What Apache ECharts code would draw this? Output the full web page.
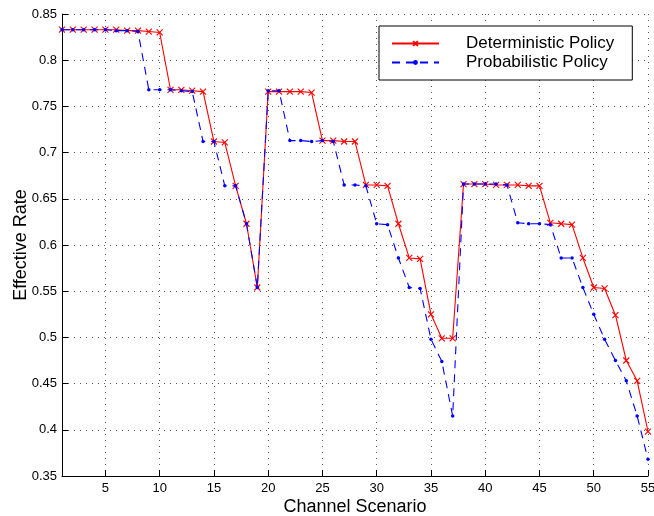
<!DOCTYPE html>
<html>
<head>
<meta charset="utf-8">
<script src="https://cdn.jsdelivr.net/npm/echarts@6/dist/echarts.min.js"></script>
<style>
    html, body { margin: 0; padding: 0; background: #fff; }
    #chart { width: 654px; height: 516px; }
</style>
</head>
<body>
<div id="chart"></div>
<script>
// channel scenarios on the x axis
var scenarios = [1, 2, 3, 4, 5, 6, 7, 8, 9, 10, 11, 12, 13, 14, 15, 16, 17, 18, 19, 20,
    21, 22, 23, 24, 25, 26, 27, 28, 29, 30, 31, 32, 33, 34, 35, 36, 37, 38, 39, 40,
    41, 42, 43, 44, 45, 46, 47, 48, 49, 50, 51, 52, 53, 54, 55];

// effective rate, deterministic policy (red)
var deterministic = [0.833, 0.833, 0.833, 0.833, 0.833, 0.833, 0.832, 0.832, 0.831, 0.830,
    0.768, 0.768, 0.767, 0.766, 0.712, 0.711, 0.664, 0.623, 0.554, 0.766,
    0.766, 0.766, 0.766, 0.765, 0.713, 0.713, 0.712, 0.712, 0.665, 0.665,
    0.664, 0.623, 0.586, 0.585, 0.525, 0.499, 0.499, 0.666, 0.666, 0.666,
    0.665, 0.665, 0.665, 0.664, 0.664, 0.624, 0.623, 0.622, 0.586, 0.554,
    0.553, 0.524, 0.475, 0.453, 0.398];

// effective rate, probabilistic policy (blue)
var probabilistic = [0.833, 0.833, 0.833, 0.833, 0.833, 0.832, 0.832, 0.831, 0.768, 0.768,
    0.768, 0.767, 0.766, 0.712, 0.712, 0.664, 0.664, 0.623, 0.554, 0.767,
    0.767, 0.713, 0.713, 0.712, 0.713, 0.712, 0.665, 0.665, 0.664, 0.623,
    0.622, 0.586, 0.554, 0.553, 0.498, 0.474, 0.415, 0.666, 0.666, 0.666,
    0.666, 0.665, 0.624, 0.623, 0.623, 0.622, 0.586, 0.586, 0.554, 0.525,
    0.498, 0.475, 0.453, 0.415, 0.368];

var xTicks = [5, 10, 15, 20, 25, 30, 35, 40, 45, 50, 55];

function pairs(ys) {
    var out = [];
    for (var i = 0; i < scenarios.length; i++) {
        out.push([scenarios[i], ys[i]]);
    }
    return out;
}

var font = '"Liberation Sans", Arial, Helvetica, sans-serif';
var gridLine = {show: true, lineStyle: {color: '#555', width: 1, type: [1, 5]}};

var chart = echarts.init(document.getElementById('chart'), null, {renderer: 'canvas'});
chart.setOption({
    animation: false,
    backgroundColor: '#fff',
    textStyle: {fontFamily: font},
    grid: {left: 62, right: 6, top: 14, bottom: 40, containLabel: false, outerBoundsMode: 'none'},
    legend: {
        orient: 'vertical',
        left: 379,
        top: 26,
        padding: [9, 18, 9, 12],
        itemWidth: 47,
        itemHeight: 6,
        itemGap: 2,
        borderColor: '#000',
        borderWidth: 1,
        backgroundColor: '#fff',
        textStyle: {fontSize: 17, color: '#000', fontFamily: font, padding: [0, 0, 0, 22]},
        data: ['Deterministic Policy', 'Probabilistic Policy']
    },
    xAxis: {
        type: 'value',
        min: 1,
        max: 55,
        name: 'Channel Scenario',
        nameLocation: 'middle',
        nameGap: 22,
        nameMoveOverlap: false,
        nameTextStyle: {fontSize: 18, color: '#000', fontFamily: font},
        axisLine: {show: true, onZero: false, lineStyle: {color: '#000', width: 1}},
        axisTick: {show: true, inside: true, length: 6, customValues: xTicks, lineStyle: {color: '#000'}},
        axisLabel: {customValues: xTicks, fontSize: 13, color: '#000', margin: 6, fontFamily: font},
        splitLine: gridLine
    },
    yAxis: {
        type: 'value',
        min: 0.35,
        max: 0.85,
        interval: 0.05,
        name: 'Effective Rate',
        nameLocation: 'middle',
        nameGap: 32,
        nameMoveOverlap: false,
        nameTextStyle: {fontSize: 18, color: '#000', fontFamily: font},
        axisLine: {show: true, lineStyle: {color: '#000', width: 1}},
        axisTick: {show: true, inside: true, length: 6, lineStyle: {color: '#000'}},
        axisLabel: {fontSize: 13, color: '#000', margin: 5, fontFamily: font},
        splitLine: gridLine
    },
    series: [
        {
            name: 'Deterministic Policy',
            type: 'line',
            clip: false,
            data: pairs(deterministic),
            symbol: 'path://M0,0L10,10M10,0L0,10',
            symbolSize: 6,
            showAllSymbol: true,
            lineStyle: {color: '#ff0000', width: 1.1},
            itemStyle: {color: '#ff0000', borderColor: '#ff0000', borderWidth: 1.1},
            z: 3
        },
        {
            name: 'Probabilistic Policy',
            type: 'line',
            clip: false,
            data: pairs(probabilistic),
            symbol: 'circle',
            symbolSize: 3.5,
            showAllSymbol: true,
            lineStyle: {color: '#0000ff', width: 1.1, type: [8, 6]},
            itemStyle: {color: '#0000ff', borderWidth: 0},
            z: 4
        }
    ]
});
</script>
</body>
</html>
